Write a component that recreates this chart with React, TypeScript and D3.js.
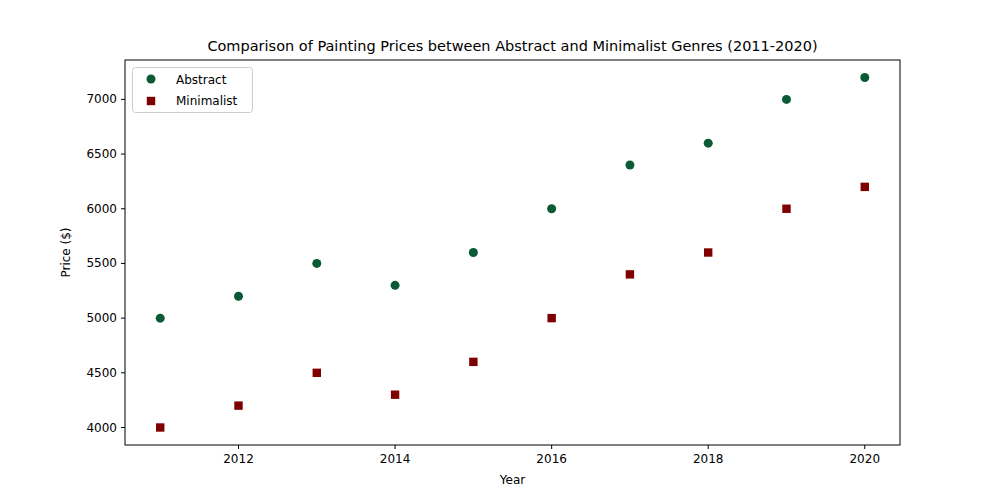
import * as d3 from "d3";

const years = [2011, 2012, 2013, 2014, 2015, 2016, 2017, 2018, 2019, 2020];
const abstractPrices = [5000, 5200, 5500, 5300, 5600, 6000, 6400, 6600, 7000, 7200];
const minimalistPrices = [4000, 4200, 4500, 4300, 4600, 5000, 5400, 5600, 6000, 6200];
const xTicks = [2012, 2014, 2016, 2018, 2020];
const yTicks = [4000, 4500, 5000, 5500, 6000, 6500, 7000];

const W = 1000, H = 500;
const m = { left: 125, right: 900, top: 60, bottom: 445 };
const green = "#0b5a36";
const red = "#7f0000";
const font = "DejaVu Sans, sans-serif";

export default function App() {
  const x = d3.scaleLinear().domain([2010.55, 2020.45]).range([m.left, m.right]);
  const y = d3.scaleLinear().domain([3840, 7360]).range([m.bottom, m.top]);
  return (
    <svg width={W} height={H} style={{ position: "absolute", left: 0, top: 0 }} fontFamily={font}>
      <rect width={W} height={H} fill="#fff" />
      <text x={(m.left + m.right) / 2} y={51} textAnchor="middle" fontSize={14.5}>
        Comparison of Painting Prices between Abstract and Minimalist Genres (2011-2020)
      </text>
      {xTicks.map((t) => (
        <g key={t}>
          <line x1={x(t)} x2={x(t)} y1={m.bottom} y2={m.bottom + 4} stroke="#000" />
          <text x={x(t)} y={m.bottom + 18} textAnchor="middle" fontSize={12}>{t}</text>
        </g>
      ))}
      {yTicks.map((t) => (
        <g key={t}>
          <line x1={m.left - 4} x2={m.left} y1={y(t)} y2={y(t)} stroke="#000" />
          <text x={m.left - 8} y={y(t) + 4} textAnchor="end" fontSize={12}>{t}</text>
        </g>
      ))}
      <text x={(m.left + m.right) / 2} y={484} textAnchor="middle" fontSize={12}>Year</text>
      <text transform={`translate(70,${(m.top + m.bottom) / 2}) rotate(-90)`} textAnchor="middle" fontSize={12}>Price ($)</text>
      {years.map((yr, i) => (
        <circle key={"a" + yr} cx={x(yr)} cy={y(abstractPrices[i])} r={4.5} fill={green} />
      ))}
      {years.map((yr, i) => (
        <rect key={"m" + yr} x={x(yr) - 4.2} y={y(minimalistPrices[i]) - 4.2} width={8.4} height={8.4} fill={red} />
      ))}
      <rect x={m.left} y={m.top} width={m.right - m.left} height={m.bottom - m.top} fill="none" stroke="#000" strokeWidth={1} />
      <g>
        <rect x={132.5} y={67.5} width={120} height={45} rx={3} fill="#fff" stroke="#ccc" />
        <circle cx={151} cy={79} r={4.5} fill={green} />
        <text x={176} y={84} fontSize={12}>Abstract</text>
        <rect x={146.8} y={96.8} width={8.4} height={8.4} fill={red} />
        <text x={176} y={105} fontSize={12}>Minimalist</text>
      </g>
    </svg>
  );
}
